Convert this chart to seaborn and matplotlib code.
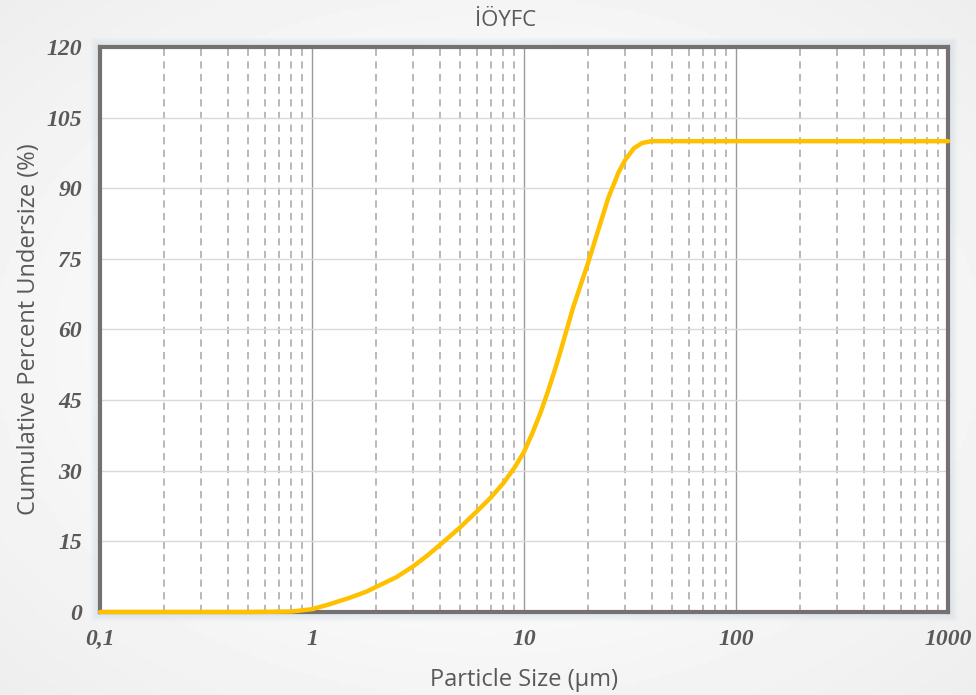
import numpy as np
import pandas as pd
import matplotlib
matplotlib.use("Agg")
import matplotlib.pyplot as plt
from matplotlib.patches import Rectangle
from matplotlib.ticker import FixedLocator, FuncFormatter, NullFormatter
import seaborn as sns

# Particle size distribution
particle_size = [0.1, 0.2, 0.5, 0.8, 1.0, 1.2, 1.5, 1.8, 2.0, 2.5, 3.0, 3.5, 4.0, 4.5,
                 5.0, 6.0, 7.0, 8.0, 9.0, 10.0, 11.0, 12.0, 13.0, 14.0, 15.0, 17.0,
                 20.0, 22.0, 25.0, 28.0, 30.0, 33.0, 36.0, 40.0, 50.0, 100.0, 1000.0]
cum_undersize = [0.0, 0.0, 0.0, 0.1, 0.6, 1.6, 3.0, 4.3, 5.3, 7.4, 9.7, 12.0, 14.2, 16.2,
                 18.0, 21.4, 24.4, 27.4, 30.6, 34.0, 38.2, 42.5, 47.0, 51.5, 56.0, 64.5,
                 74.0, 80.0, 88.0, 93.5, 96.0, 98.5, 99.6, 100.0, 100.0, 100.0, 100.0]

title = "İÖYFC"
x_label = "Particle Size (µm)"
y_label = "Cumulative Percent Undersize (%)"
y_ticks = [0, 15, 30, 45, 60, 75, 90, 105, 120]
x_major = [0.1, 1, 10, 100, 1000]

df = pd.DataFrame({"size": particle_size, "cum": cum_undersize})

sns.set_theme(style="white")
plt.rcParams["font.family"] = ["Open Sans", "DejaVu Sans"]

fig = plt.figure(figsize=(9.76, 6.95), dpi=100)

# soft gray vignette background
bg = fig.add_axes([0, 0, 1, 1], zorder=-10)
yy, xx = np.mgrid[-1:1:200j, -1:1:280j]
r = np.sqrt((xx * 0.9) ** 2 + (yy * 0.9) ** 2)
bg.imshow(1 - 0.07 * np.clip(r - 0.3, 0, 1), cmap="gray", vmin=0, vmax=1,
          aspect="auto", extent=[0, 1, 0, 1])
bg.axis("off")

left, bottom, width, height = 0.1025, 0.1194, 0.8688, 0.813
ax = fig.add_axes([left, bottom, width, height])

# bluish glow around the plot frame
for i in range(1, 10):
    dx = i / 976
    dy = i / 695
    fig.patches.append(Rectangle((left - dx, bottom - dy), width + 2 * dx, height + 2 * dy,
                                 transform=fig.transFigure, fill=False,
                                 edgecolor="#b8cde2", alpha=0.22 * (1 - i / 10),
                                 linewidth=1.5, zorder=-5))

sns.lineplot(data=df, x="size", y="cum", ax=ax, color="#FFC000", linewidth=3.2,
             zorder=5, clip_on=False)
ax.lines[0].set_solid_joinstyle("round")

ax.set_xscale("log")
ax.set_xlim(0.1, 1000)
ax.set_ylim(0, 120)

minor = [m * 10.0 ** e for e in range(-1, 3) for m in range(2, 10)]
ax.xaxis.set_major_locator(FixedLocator(x_major))
ax.xaxis.set_minor_locator(FixedLocator(minor))
ax.xaxis.set_minor_formatter(NullFormatter())
ax.xaxis.set_major_formatter(FuncFormatter(lambda v, p: ("%g" % v).replace(".", ",")))
ax.set_yticks(y_ticks)

ax.grid(True, which="major", axis="x", color="#9a9a9a", linewidth=1.0, linestyle="-")
ax.grid(True, which="minor", axis="x", color="#b5b2b2", linewidth=1.3, linestyle=(0, (4, 3)))
ax.grid(True, which="major", axis="y", color="#d9d9d9", linewidth=1.0)
ax.set_axisbelow(True)

for s in ax.spines.values():
    s.set_color("#767171")
    s.set_linewidth(3)

for lab in ax.get_xticklabels() + ax.get_yticklabels():
    lab.set_fontfamily("Liberation Serif")
    lab.set_fontstyle("italic")
    lab.set_fontweight("bold")
    lab.set_fontsize(17)
    lab.set_color("#595959")
ax.tick_params(axis="both", which="both", length=0)
ax.tick_params(axis="x", pad=12)
ax.tick_params(axis="y", pad=13)

ax.set_xlabel(x_label, fontsize=17, color="#595959", labelpad=13)
ax.set_ylabel(y_label, fontsize=17, color="#595959", labelpad=4)
fig.text(0.5185, 0.970, title, fontsize=16, color="#595959", ha="center", va="center")

fig.savefig("out.png", dpi=100)
